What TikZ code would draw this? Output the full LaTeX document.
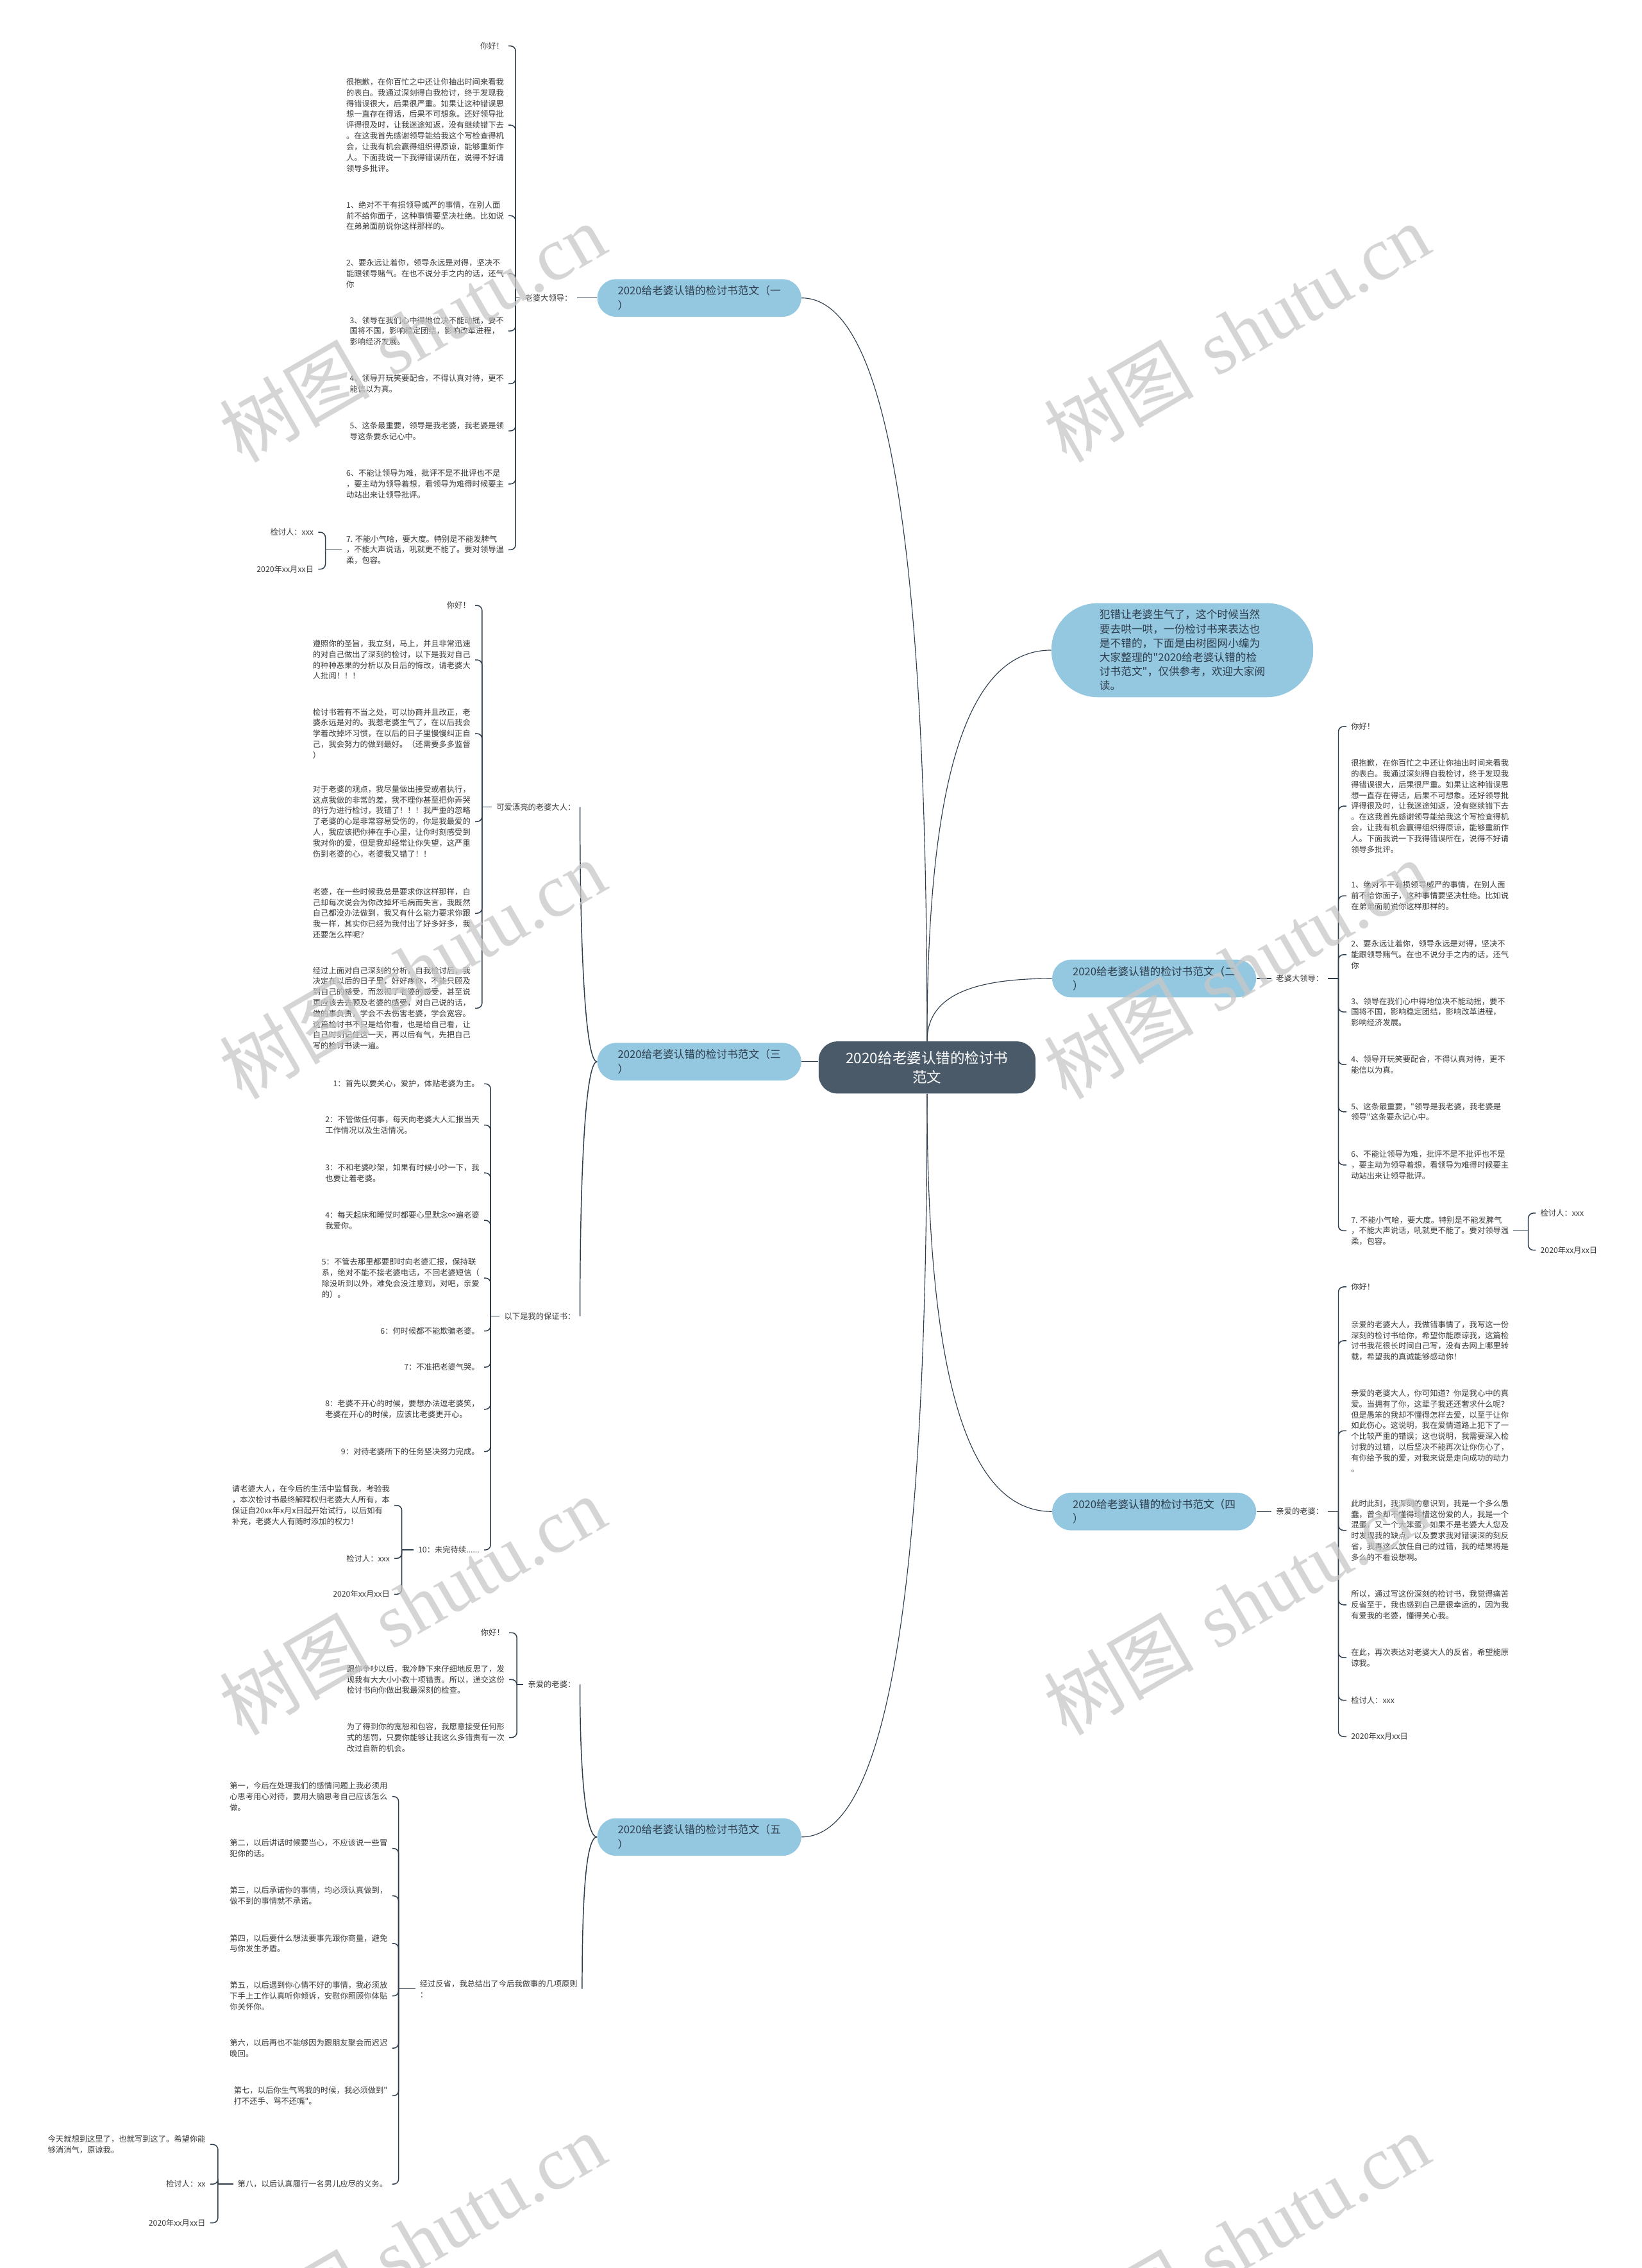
\documentclass[tikz,border=0pt]{standalone}
\usepackage{fontspec}
\usetikzlibrary{positioning}
\newfontfamily\cjk{Noto Sans CJK SC}
\newfontfamily\wmlatin{Liberation Serif}
\definecolor{cnavy}{HTML}{2E3D4C}
\definecolor{cslate}{HTML}{4A5A69}
\definecolor{csky}{HTML}{94C8E1}
\definecolor{cink}{HTML}{3A3A3A}
\newcommand{\leaffont}{\cjk\fontsize{5.45pt}{7.45pt}\selectfont}

\begin{document}
\begin{tikzpicture}[
  x=1pt, y=-1pt,
  hub/.style={fill=cslate, text=white, rounded corners=13pt,
              minimum width=150pt, minimum height=36pt, align=center,
              font=\cjk\fontsize{10pt}{13pt}\selectfont},
  branch/.style={fill=csky, text=cnavy, rounded corners=13pt,
                 minimum width=141pt, minimum height=26pt, align=left,
                 font=\cjk\fontsize{7.4pt}{10pt}\selectfont},
  intro/.style={fill=csky, text=cnavy, rounded corners=32pt,
                minimum width=181pt, minimum height=65pt, align=left,
                font=\cjk\fontsize{7.4pt}{9.85pt}\selectfont},
  lab/.style={text=cink, font=\leaffont, inner xsep=3pt, inner ysep=1pt},
  leaf/.style={text=cink, font=\leaffont, align=left,
               inner xsep=3pt, inner ysep=1pt},
  stem/.style={draw=cnavy, line width=0.5pt},
  kid/.style={draw=cnavy, line width=0.65pt, rounded corners=3.5pt},
  wmark/.style={text=black!22, opacity=0.75, rotate=30,
                font=\fontsize{52pt}{52pt}\selectfont},
]
\useasboundingbox (0,0) rectangle (1135,1568);
\fill[white] (0,0) rectangle (1135,1568);

% centre and first level
\node[hub] (hub) at (641,738) {2020给老婆认错的检讨书\\范文};
\node[intro] (intro) at (817.5,449.5) {犯错让老婆生气了，这个时候当然\\要去哄一哄，一份检讨书来表达也\\是不错的，下面是由树图网小编为\\大家整理的"2020给老婆认错的检\\讨书范文"，仅供参考，欢迎大家阅\\读。};
\node[branch] (b1) at (483.5,206) {2020给老婆认错的检讨书范文（一\\）};
\node[branch] (b2) at (798,676.5) {2020给老婆认错的检讨书范文（二\\）};
\node[branch] (b3) at (483.5,734) {2020给老婆认错的检讨书范文（三\\）};
\node[branch] (b4) at (798,1045) {2020给老婆认错的检讨书范文（四\\）};
\node[branch] (b5) at (483.5,1270) {2020给老婆认错的检讨书范文（五\\）};

% branch one
\node[lab, left=14pt of b1] (b1lab) {老婆大领导：};
\coordinate (b1s) at (356.5,206);
\node[leaf, anchor=east] (b1k1) at (351.6,31.8) {你好！};
\node[leaf, anchor=east] (b1k2) at (351.6,86.5) {很抱歉，在你百忙之中还让你抽出时间来看我\\的表白。我通过深刻得自我检讨，终于发现我\\得错误很大，后果很严重。如果让这种错误思\\想一直存在得话，后果不可想象。还好领导批\\评得很及时，让我迷途知返，没有继续错下去\\。在这我首先感谢领导能给我这个写检查得机\\会，让我有机会赢得组织得原谅，能够重新作\\人。下面我说一下我得错误所在，说得不好请\\领导多批评。};
\node[leaf, anchor=east] (b1k3) at (351.6,149.1) {1、绝对不干有损领导威严的事情，在别人面\\前不给你面子，这种事情要坚决杜绝。比如说\\在弟弟面前说你这样那样的。};
\node[leaf, anchor=east] (b1k4) at (351.6,189.2) {2、要永远让着你，领导永远是对得，坚决不\\能跟领导赌气。在也不说分手之内的话，还气\\你};
\node[leaf, anchor=east] (b1k5) at (351.6,228.8) {3、领导在我们心中得地位决不能动摇，要不\\国将不国，影响稳定团结，影响改革进程，\\影响经济发展。};
\node[leaf, anchor=east] (b1k6) at (351.6,265.3) {4、领导开玩笑要配合，不得认真对待，更不\\能信以为真。};
\node[leaf, anchor=east] (b1k7) at (351.6,297.9) {5、这条最重要，领导是我老婆，我老婆是领\\导这条要永记心中。};
\node[leaf, anchor=east] (b1k8) at (351.6,334.6) {6、不能让领导为难，批评不是不批评也不是\\，要主动为领导着想，看领导为难得时候要主\\动站出来让领导批评。};
\node[leaf, anchor=east] (b1k9) at (351.6,380.1) {7. 不能小气哈，要大度。特别是不能发脾气\\，不能大声说话，吼就更不能了。要对领导温\\柔，包容。};
\coordinate (b1t) at (225,380.1);
\node[leaf, anchor=east] (b1k9a) at (220,368) {检讨人：xxx};
\node[leaf, anchor=east] (b1k9b) at (220,393.5) {2020年xx月xx日};

% branch two
\node[lab, right=10.5pt of b2] (b2lab) {老婆大领导：};
\coordinate (b2s) at (925.4,676.5);
\node[leaf, anchor=west] (b2k1) at (931,502.3) {你好！};
\node[leaf, anchor=west] (b2k2) at (931,557.3) {很抱歉，在你百忙之中还让你抽出时间来看我\\的表白。我通过深刻得自我检讨，终于发现我\\得错误很大，后果很严重。如果让这种错误思\\想一直存在得话，后果不可想象。还好领导批\\评得很及时，让我迷途知返，没有继续错下去\\。在这我首先感谢领导能给我这个写检查得机\\会，让我有机会赢得组织得原谅，能够重新作\\人。下面我说一下我得错误所在，说得不好请\\领导多批评。};
\node[leaf, anchor=west] (b2k3) at (931,619.3) {1、绝对不干有损领导威严的事情，在别人面\\前不给你面子，这种事情要坚决杜绝。比如说\\在弟弟面前说你这样那样的。};
\node[leaf, anchor=west] (b2k4) at (931,660) {2、要永远让着你，领导永远是对得，坚决不\\能跟领导赌气。在也不说分手之内的话，还气\\你};
\node[leaf, anchor=west] (b2k5) at (931,699.6) {3、领导在我们心中得地位决不能动摇，要不\\国将不国，影响稳定团结，影响改革进程，\\影响经济发展。};
\node[leaf, anchor=west] (b2k6) at (931,736) {4、领导开玩笑要配合，不得认真对待，更不\\能信以为真。};
\node[leaf, anchor=west] (b2k7) at (931,768.6) {5、这条最重要，"领导是我老婆，我老婆是\\领导"这条要永记心中。};
\node[leaf, anchor=west] (b2k8) at (931,805.4) {6、不能让领导为难，批评不是不批评也不是\\，要主动为领导着想，看领导为难得时候要主\\动站出来让领导批评。};
\node[leaf, anchor=west] (b2k9) at (931,850.9) {7. 不能小气哈，要大度。特别是不能发脾气\\，不能大声说话，吼就更不能了。要对领导温\\柔，包容。};
\coordinate (b2t) at (1056.7,850.9);
\node[leaf, anchor=west] (b2k9a) at (1061.9,838.7) {检讨人：xxx};
\node[leaf, anchor=west] (b2k9b) at (1061.9,864.3) {2020年xx月xx日};

% branch three
\node[lab, anchor=east] (b3l1) at (401,558) {可爱漂亮的老婆大人：};
\coordinate (b3s1) at (333.3,558);
\node[leaf, anchor=east] (b3c1) at (328.5,418.6) {你好！};
\node[leaf, anchor=east] (b3c2) at (328.5,456.2) {遵照你的圣旨，我立刻，马上，并且非常迅速\\的对自己做出了深刻的检讨，以下是我对自己\\的种种恶果的分析以及日后的悔改，请老婆大\\人批阅！！！};
\node[leaf, anchor=east] (b3c3) at (328.5,507.2) {检讨书若有不当之处，可以协商并且改正，老\\婆永远是对的。我惹老婆生气了，在以后我会\\学着改掉坏习惯，在以后的日子里慢慢纠正自\\己，我会努力的做到最好。（还需要多多监督\\）};
\node[leaf, anchor=east] (b3c4) at (328.5,568) {对于老婆的观点，我尽量做出接受或者执行，\\这点我做的非常的差，我不理你甚至把你弄哭\\的行为进行检讨，我错了！！！我严重的忽略\\了老婆的心是非常容易受伤的，你是我最爱的\\人，我应该把你捧在手心里，让你时刻感受到\\我对你的爱，但是我却经常让你失望，这严重\\伤到老婆的心，老婆我又错了！！};
\node[leaf, anchor=east] (b3c5) at (328.5,631.4) {老婆，在一些时候我总是要求你这样那样，自\\己却每次说会为你改掉坏毛病而失言，我既然\\自己都没办法做到，我又有什么能力要求你跟\\我一样，其实你已经为我付出了好多好多，我\\还要怎么样呢？};
\node[leaf, anchor=east] (b3c6) at (328.5,697) {经过上面对自己深刻的分析，自我检讨后，我\\决定在以后的日子里，好好疼你，不能只顾及\\到自己的感受，而忽视了老婆的感受，甚至说\\更应该去去顾及老婆的感受，对自己说的话，\\做的事负责，学会不去伤害老婆，学会宽容。\\这篇检讨书不只是给你看，也是给自己看，让\\自己时刻记住这一天，再以后有气，先把自己\\写的检讨书读一遍。};

\node[lab, anchor=east] (b3l2) at (401,910) {以下是我的保证书：};
\coordinate (b3s2) at (339.2,910);
\node[leaf, anchor=east] (b3d1) at (334.7,749.3) {1：首先以要关心，爱护，体贴老婆为主。};
\node[leaf, anchor=east] (b3d2) at (334.7,777.8) {2：不管做任何事，每天向老婆大人汇报当天\\工作情况以及生活情况。};
\node[leaf, anchor=east] (b3d3) at (334.7,810.9) {3：不和老婆吵架，如果有时候小吵一下，我\\也要让着老婆。};
\node[leaf, anchor=east] (b3d4) at (334.7,843.7) {4：每天起床和睡觉时都要心里默念∞遍老婆\\我爱你。};
\node[leaf, anchor=east] (b3d5) at (334.7,883.6) {5：不管去那里都要即时向老婆汇报，保持联\\系，绝对不能不接老婆电话，不回老婆短信（\\除没听到以外，难免会没注意到，对吧，亲爱\\的）。};
\node[leaf, anchor=east] (b3d6) at (334.7,920.2) {6：何时候都不能欺骗老婆。};
\node[leaf, anchor=east] (b3d7) at (334.7,945.2) {7：不准把老婆气哭。};
\node[leaf, anchor=east] (b3d8) at (334.7,974.3) {8：老婆不开心的时候，要想办法逗老婆笑，\\老婆在开心的时候，应该比老婆更开心。};
\node[leaf, anchor=east] (b3d9) at (334.7,1003.5) {9：对待老婆所下的任务坚决努力完成。};
\node[leaf, anchor=east] (b3d10) at (334.7,1071.5) {10：未完待续......};
\coordinate (b3t) at (277.8,1071.5);
\node[leaf, anchor=east] (b3d10a) at (272.7,1040.7) {请老婆大人，在今后的生活中监督我，考验我\\，本次检讨书最终解释权归老婆大人所有，本\\保证自20xx年x月x日起开始试行，以后如有\\补充，老婆大人有随时添加的权力！};
\node[leaf, anchor=east] (b3d10b) at (272.7,1077.4) {检讨人：xxx};
\node[leaf, anchor=east] (b3d10c) at (272.7,1102.2) {2020年xx月xx日};

% branch four
\node[lab, right=10.5pt of b4] (b4lab) {亲爱的老婆：};
\coordinate (b4s) at (925.4,1045);
\node[leaf, anchor=west] (b4e1) at (931,889.7) {你好！};
\node[leaf, anchor=west] (b4e2) at (931,926.9) {亲爱的老婆大人，我做错事情了，我写这一份\\深刻的检讨书给你，希望你能原谅我，这篇检\\讨书我花很长时间自己写，没有去网上哪里转\\载，希望我的真诚能够感动你！};
\node[leaf, anchor=west] (b4e3) at (931,989.2) {亲爱的老婆大人，你可知道？你是我心中的真\\爱。当拥有了你，这辈子我还还奢求什么呢？\\但是愚笨的我却不懂得怎样去爱，以至于让你\\如此伤心。这说明，我在爱情道路上犯下了一\\个比较严重的错误；这也说明，我需要深入检\\讨我的过错，以后坚决不能再次让你伤心了，\\有你给予我的爱，对我来说是走向成功的动力\\。};
\node[leaf, anchor=west] (b4e4) at (931,1058) {此时此刻，我深刻的意识到，我是一个多么愚\\蠢，曾今却不懂得珍惜这份爱的人，我是一个\\混蛋，又一个大笨蛋，如果不是老婆大人您及\\时发现我的缺点，以及要求我对错误深的刻反\\省，我再这么放任自己的过错，我的结果将是\\多么的不看设想啊。};
\node[leaf, anchor=west] (b4e5) at (931,1109.5) {所以，通过写这份深刻的检讨书，我觉得痛苦\\反省至于，我也感到自己是很幸运的，因为我\\有爱我的老婆，懂得关心我。};
\node[leaf, anchor=west] (b4e6) at (931,1146) {在此，再次表达对老婆大人的反省，希望能原\\谅我。};
\node[leaf, anchor=west] (b4e7) at (931,1175.5) {检讨人：xxx};
\node[leaf, anchor=west] (b4e8) at (931,1200.6) {2020年xx月xx日};

% branch five
\node[lab, anchor=east] (b5l1) at (401,1164.6) {亲爱的老婆：};
\coordinate (b5s1) at (357.4,1164.6);
\node[leaf, anchor=east] (b5f1) at (352,1128.8) {你好！};
\node[leaf, anchor=east] (b5f2) at (352,1161.2) {跟你争吵以后，我冷静下来仔细地反思了，发\\现我有大大小小数十项错责。所以，递交这份\\检讨书向你做出我最深刻的检查。};
\node[leaf, anchor=east] (b5f3) at (352,1201.2) {为了得到你的宽恕和包容，我愿意接受任何形\\式的惩罚，只要你能够让我这么多错责有一次\\改过自新的机会。};

\node[leaf, anchor=east] (b5l2) at (402.5,1375) {经过反省，我总结出了今后我做事的几项原则\\：};
\coordinate (b5s2) at (275.6,1375);
\node[leaf, anchor=east] (b5g1) at (271.1,1242) {第一，今后在处理我们的感情问题上我必须用\\心思考用心对待，要用大脑思考自己应该怎么\\做。};
\node[leaf, anchor=east] (b5g2) at (271.1,1277.9) {第二，以后讲话时候要当心，不应该说一些冒\\犯你的话。};
\node[leaf, anchor=east] (b5g3) at (271.1,1310.7) {第三，以后承诺你的事情，均必须认真做到，\\做不到的事情就不承诺。};
\node[leaf, anchor=east] (b5g4) at (271.1,1343.6) {第四，以后要什么想法要事先跟你商量，避免\\与你发生矛盾。};
\node[leaf, anchor=east] (b5g5) at (271.1,1379.9) {第五，以后遇到你心情不好的事情，我必须放\\下手上工作认真听你倾诉，安慰你照顾你体贴\\你关怀你。};
\node[leaf, anchor=east] (b5g6) at (271.1,1416) {第六，以后再也不能够因为跟朋友聚会而迟迟\\晚回。};
\node[leaf, anchor=east] (b5g7) at (271.1,1448.9) {第七，以后你生气骂我的时候，我必须做到"\\打不还手、骂不还嘴"。};
\node[leaf, anchor=east] (b5g8) at (271.1,1510) {第八，以后认真履行一名男儿应尽的义务。};
\coordinate (b5t) at (150.7,1510);
\node[leaf, anchor=east] (b5g8a) at (145.3,1482.6) {今天就想到这里了，也就写到这了。希望你能\\够消消气，原谅我。};
\node[leaf, anchor=east] (b5g8b) at (145.3,1510) {检讨人：xx};
\node[leaf, anchor=east] (b5g8c) at (145.3,1536.8) {2020年xx月xx日};

% centre connectors
\draw[stem] (hub.north) .. controls +(0,-334) and +(61,0) .. (b1.east);
\draw[stem] (hub.north) .. controls +(0,-175) and +(-60,0) .. (intro.west);
\draw[stem] (hub.north) .. controls +(0,-29) and +(-60,0) .. (b2.west);
\draw[stem] (b3.east) -- (b3.east -| hub.west);
\draw[stem] (hub.south) .. controls +(0,188) and +(-61,0) .. (b4.west);
\draw[stem] (hub.south) .. controls +(0,334) and +(61,0) .. (b5.east);

% branch one connectors
\draw[kid] (b1lab.east) -- (b1.west); \draw[kid] (b1lab.west) -- (b1s);
\draw[kid] (b1s) |- (b1k1.east); \draw[kid] (b1s) |- (b1k2.east);
\draw[kid] (b1s) |- (b1k3.east); \draw[kid] (b1s) |- (b1k4.east);
\draw[kid] (b1s) |- (b1k5.east); \draw[kid] (b1s) |- (b1k6.east);
\draw[kid] (b1s) |- (b1k7.east); \draw[kid] (b1s) |- (b1k8.east);
\draw[kid] (b1s) |- (b1k9.east);
\draw[kid] (b1k9.west) -- (b1t);
\draw[kid] (b1t) |- (b1k9a.east); \draw[kid] (b1t) |- (b1k9b.east);

% branch two connectors
\draw[kid] (b2.east) -- (b2lab.west); \draw[kid] (b2lab.east) -- (b2s);
\draw[kid] (b2s) |- (b2k1.west); \draw[kid] (b2s) |- (b2k2.west);
\draw[kid] (b2s) |- (b2k3.west); \draw[kid] (b2s) |- (b2k4.west);
\draw[kid] (b2s) |- (b2k5.west); \draw[kid] (b2s) |- (b2k6.west);
\draw[kid] (b2s) |- (b2k7.west); \draw[kid] (b2s) |- (b2k8.west);
\draw[kid] (b2s) |- (b2k9.west);
\draw[kid] (b2k9.east) -- (b2t);
\draw[kid] (b2t) |- (b2k9a.west); \draw[kid] (b2t) |- (b2k9b.west);

% branch three connectors
\draw[kid] (b3.west) .. controls +(-8,0) and +(0,100) .. (b3l1.east);
\draw[kid] (b3.west) .. controls +(-8,0) and +(0,-100) .. (b3l2.east);
\draw[kid] (b3l1.west) -- (b3s1);
\draw[kid] (b3s1) |- (b3c1.east); \draw[kid] (b3s1) |- (b3c2.east);
\draw[kid] (b3s1) |- (b3c3.east); \draw[kid] (b3s1) |- (b3c4.east);
\draw[kid] (b3s1) |- (b3c5.east); \draw[kid] (b3s1) |- (b3c6.east);
\draw[kid] (b3l2.west) -- (b3s2);
\draw[kid] (b3s2) |- (b3d1.east); \draw[kid] (b3s2) |- (b3d2.east);
\draw[kid] (b3s2) |- (b3d3.east); \draw[kid] (b3s2) |- (b3d4.east);
\draw[kid] (b3s2) |- (b3d5.east); \draw[kid] (b3s2) |- (b3d6.east);
\draw[kid] (b3s2) |- (b3d7.east); \draw[kid] (b3s2) |- (b3d8.east);
\draw[kid] (b3s2) |- (b3d9.east); \draw[kid] (b3s2) |- (b3d10.east);
\draw[kid] (b3d10.west) -- (b3t);
\draw[kid] (b3t) |- (b3d10a.east); \draw[kid] (b3t) |- (b3d10b.east);
\draw[kid] (b3t) |- (b3d10c.east);

% branch four connectors
\draw[kid] (b4.east) -- (b4lab.west); \draw[kid] (b4lab.east) -- (b4s);
\draw[kid] (b4s) |- (b4e1.west); \draw[kid] (b4s) |- (b4e2.west);
\draw[kid] (b4s) |- (b4e3.west); \draw[kid] (b4s) |- (b4e4.west);
\draw[kid] (b4s) |- (b4e5.west); \draw[kid] (b4s) |- (b4e6.west);
\draw[kid] (b4s) |- (b4e7.west); \draw[kid] (b4s) |- (b4e8.west);

% branch five connectors
\draw[kid] (b5.west) .. controls +(-8,0) and +(0,60) .. (b5l1.east);
\draw[kid] (b5.west) .. controls +(-8,0) and +(0,-60) .. (b5l2.east);
\draw[kid] (b5l1.west) -- (b5s1);
\draw[kid] (b5s1) |- (b5f1.east); \draw[kid] (b5s1) |- (b5f2.east);
\draw[kid] (b5s1) |- (b5f3.east);
\draw[kid] (b5l2.west) -- (b5s2);
\draw[kid] (b5s2) |- (b5g1.east); \draw[kid] (b5s2) |- (b5g2.east);
\draw[kid] (b5s2) |- (b5g3.east); \draw[kid] (b5s2) |- (b5g4.east);
\draw[kid] (b5s2) |- (b5g5.east); \draw[kid] (b5s2) |- (b5g6.east);
\draw[kid] (b5s2) |- (b5g7.east); \draw[kid] (b5s2) |- (b5g8.east);
\draw[kid] (b5g8.west) -- (b5t);
\draw[kid] (b5t) |- (b5g8a.east); \draw[kid] (b5t) |- (b5g8b.east);
\draw[kid] (b5t) |- (b5g8c.east);

% watermarks
\node[wmark] (wm1) at (285,230) {{\cjk 树图} {\wmlatin shutu.cn}};
\node[wmark] (wm2) at (855,230) {{\cjk 树图} {\wmlatin shutu.cn}};
\node[wmark] (wm3) at (285,670) {{\cjk 树图} {\wmlatin shutu.cn}};
\node[wmark] (wm4) at (855,670) {{\cjk 树图} {\wmlatin shutu.cn}};
\node[wmark] (wm5) at (285,1110) {{\cjk 树图} {\wmlatin shutu.cn}};
\node[wmark] (wm6) at (855,1110) {{\cjk 树图} {\wmlatin shutu.cn}};
\node[wmark] (wm7) at (285,1550) {{\cjk 树图} {\wmlatin shutu.cn}};
\node[wmark] (wm8) at (855,1550) {{\cjk 树图} {\wmlatin shutu.cn}};
\end{tikzpicture}
\end{document}
